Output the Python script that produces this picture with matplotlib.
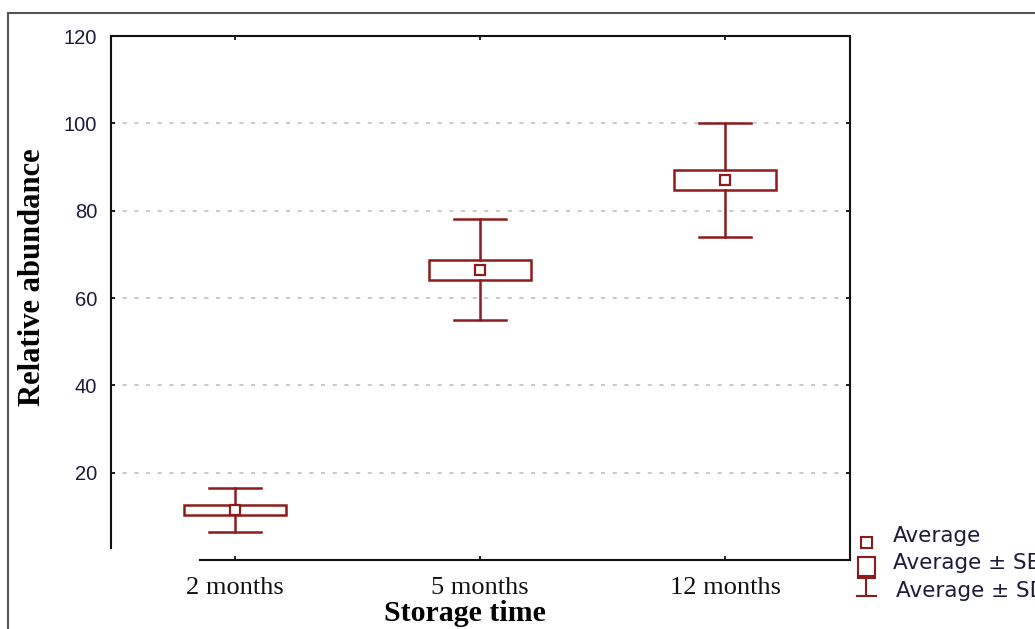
import matplotlib
matplotlib.use("Agg")
import matplotlib.pyplot as plt
from matplotlib.patches import Rectangle
from matplotlib.lines import Line2D

categories = ["2 months", "5 months", "12 months"]
means = [11.5, 66.5, 87.0]
se = [1.1, 2.3, 2.3]
sd = [5.1, 11.5, 13.0]
yticks = [20, 40, 60, 80, 100, 120]
legend_labels = ["Average", "Average \u00b1 SE", "Average \u00b1 SD"]

W, H = 1035, 629
RED = "#8E1B1B"
fig = plt.figure(figsize=(W / 100, H / 100), dpi=100)
fig.patch.set_facecolor("white")

def fx(px):
    return px / W

def fy(py):
    return 1 - py / H

ax = fig.add_axes([fx(111), fy(560), fx(850) - fx(111), fy(36) - fy(560)])
ax.set_xlim(-0.506, 2.51)
ax.set_ylim(0, 120)

# grid
for v in yticks[:-1]:
    ax.axhline(v, color="#c0c0c0", lw=1.2, linestyle=(0, (2.5, 4.5)), zorder=0)

box_w = 0.416
cap_w = 0.21
for i, (m, s, d) in enumerate(zip(means, se, sd)):
    ax.add_patch(Rectangle((i - box_w / 2, m - s), box_w, 2 * s, fill=False,
                           edgecolor=RED, lw=1.8, zorder=3))
    ax.plot([i, i], [m + s, m + d], color=RED, lw=1.8, zorder=3)
    ax.plot([i, i], [m - s, m - d], color=RED, lw=1.8, zorder=3)
    ax.plot([i - cap_w / 2, i + cap_w / 2], [m + d, m + d], color=RED, lw=1.8, zorder=3)
    ax.plot([i - cap_w / 2, i + cap_w / 2], [m - d, m - d], color=RED, lw=1.8, zorder=3)
    ax.plot([i], [m], marker="s", ms=7, mfc="white", mec=RED, mew=1.6, zorder=4)

for sp in ax.spines.values():
    sp.set_linewidth(1.5)
    sp.set_color("#111111")
ax.spines["left"].set_bounds(2.7, 120)
ax.spines["bottom"].set_bounds(-0.143, 2.51)

ax.set_yticks(yticks)
ax.set_yticklabels([str(v) for v in yticks], fontfamily="Liberation Sans",
                   fontsize=14.5, color="#1c1c3a")
ax.set_xticks(range(len(categories)))
ax.set_xticklabels(categories, fontfamily="Liberation Serif", fontsize=19, color="#111111")
ax.tick_params(axis="both", direction="in", length=3, width=1.2,
               top=True, right=True)
ax.tick_params(axis="y", pad=10)
ax.tick_params(axis="x", pad=12)

ax.set_ylabel("Relative abundance", fontfamily="Liberation Serif", fontweight="bold",
              fontsize=22)
ax.yaxis.set_label_coords(-0.086, 0.54)
ax.set_xlabel("Storage time", fontfamily="Liberation Serif", fontweight="bold",
              fontsize=21.5)
ax.xaxis.set_label_coords(0.479, -0.077)

# outer frame
fig.add_artist(Line2D([fx(8), fx(8)], [fy(13), 0], transform=fig.transFigure,
                      color="#555555", lw=1.5))
fig.add_artist(Line2D([fx(8), 1], [fy(13), fy(13)], transform=fig.transFigure,
                      color="#555555", lw=1.5))

# legend
tf = fig.transFigure
fig.add_artist(Rectangle((fx(861), fy(548)), fx(11), fy(537) - fy(548), fill=False,
                         edgecolor=RED, lw=1.5, transform=tf))
fig.add_artist(Rectangle((fx(858), fy(576)), fx(17), fy(557) - fy(576), fill=False,
                         edgecolor=RED, lw=1.5, transform=tf))
fig.add_artist(Line2D([fx(866), fx(866)], [fy(578), fy(596)], transform=tf, color=RED, lw=1.5))
fig.add_artist(Line2D([fx(858), fx(875)], [fy(578), fy(578)], transform=tf, color=RED, lw=1.5))
fig.add_artist(Line2D([fx(857), fx(876)], [fy(596), fy(596)], transform=tf, color=RED, lw=1.5))
for lab, ypx, xpx in zip(legend_labels, [536, 563, 591], [893, 893, 896]):
    fig.text(fx(xpx), fy(ypx), lab, fontfamily="DejaVu Sans", fontsize=15.5,
             color="#1c1c3a", va="center", ha="left")

fig.savefig("out.png", dpi=100)
